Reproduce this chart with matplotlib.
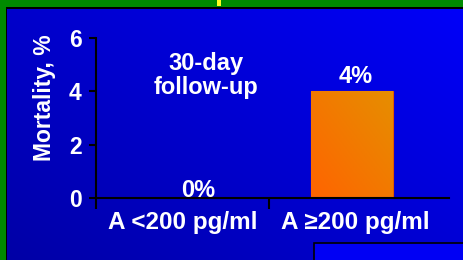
import numpy as np
import matplotlib.pyplot as plt
from matplotlib.patches import Rectangle

plt.rcParams['font.family'] = ['Liberation Sans', 'DejaVu Sans']
plt.rcParams['font.weight'] = 'bold'
plt.rcParams['axes.labelweight'] = 'bold'

categories = ['A <200 pg/ml', 'A \u2265200 pg/ml']
mortality = [0, 4]
value_labels = ['0%', '4%']
y_ticks = [0, 2, 4, 6]
y_label = 'Mortality, %'
note = '30-day\nfollow-up'

W, H = 464, 260
fig = plt.figure(figsize=(W / 100, H / 100), dpi=100)

# slide background: blue gradient, green frame
bg = fig.add_axes([0, 0, 1, 1])
bg.set_axis_off()
xx, yy = np.meshgrid(np.linspace(0, 1, 240), np.linspace(0, 1, 140))
t = 0.55 * xx + 0.45 * (1 - yy)
img = np.zeros(xx.shape + (3,))
img[..., 2] = (165 + 85 * t) / 255
bg.imshow(img, extent=[0, 1, 0, 1], origin='upper', aspect='auto')
bg.set_xlim(0, 1)
bg.set_ylim(0, 1)
green = '#008A00'
bg.add_patch(Rectangle((0, 0), 6 / W, 1, color=green, lw=0))
bg.add_patch(Rectangle((0, 1 - 7 / H), 1, 7 / H, color=green, lw=0))
bg.add_patch(Rectangle((6 / W, 0), 1.2 / W, 1 - 7 / H, color='black', lw=0))
bg.add_patch(Rectangle((6 / W, 1 - 9 / H), 1, 2 / H, color='black', lw=0))
bg.add_patch(Rectangle((217 / W, 1 - 6 / H), 4 / W, 6 / H, color='#FFFF20', lw=0))
bg.add_patch(Rectangle((314 / W, -0.05), 0.5, 17 / H + 0.05, facecolor='#0000F4',
                       edgecolor='black', lw=1.2))

ax = fig.add_axes([96 / W, 62 / H, 353 / W, 160 / H])
ax.set_facecolor('none')
x = np.arange(len(categories))
bars = ax.bar(x - 0.02, mortality, width=0.47, color='#FF6A00', edgecolor='#E05A00',
              lw=0.8, zorder=2)

# orange gradient inside the bars
gx, gy = np.meshgrid(np.linspace(0, 1, 50), np.linspace(0, 1, 50))
gt = 0.5 * gx + 0.5 * (1 - gy)
grad = np.zeros(gx.shape + (3,))
grad[..., 0] = (255 - 25 * gt) / 255
grad[..., 1] = (100 + 42 * gt) / 255
for b in bars:
    if b.get_height() <= 0:
        continue
    x0, y0 = b.get_x(), b.get_y()
    im = ax.imshow(grad, extent=[x0, x0 + b.get_width(), y0, y0 + b.get_height()],
                   origin='upper', aspect='auto', zorder=2.1)
    im.set_clip_path(b)

ax.set_xlim(-0.5, len(categories) - 1 + 0.54)
ax.set_ylim(0, max(y_ticks))
ax.set_xticks(x)
ax.set_xticklabels(categories)
ax.set_xticks(x - 0.5, minor=True)
ax.set_yticks(y_ticks)
ax.tick_params(axis='x', which='major', length=0, pad=9, labelsize=17.5,
               labelcolor='white')
ax.tick_params(axis='x', which='minor', length=8, width=1.5, color='black',
               direction='out')
ax.tick_params(axis='y', length=5, width=1.5, color='black', pad=5.5,
               labelsize=16.5, labelcolor='white')
for s in ['top', 'right']:
    ax.spines[s].set_visible(False)
for s in ['left', 'bottom']:
    ax.spines[s].set_color('black')
    ax.spines[s].set_linewidth(1.5)

ax.set_ylabel(y_label, color='white', fontsize=16.5, fontweight='bold')
ax.yaxis.label.set_va('center')
ax.yaxis.set_label_coords(-0.147, 0.625)

offsets = [(11, 1), (0, 6)]
for xi, v, lab, off in zip(x, mortality, value_labels, offsets):
    ax.annotate(lab, (xi, v), xytext=off, textcoords='offset points',
                ha='center', va='baseline', color='white', fontsize=17)

ax.text(0.312, 0.765, note, transform=ax.transAxes, ha='center', va='center',
        color='white', fontsize=17, linespacing=1.1)

fig.savefig('out.png', dpi=100)
